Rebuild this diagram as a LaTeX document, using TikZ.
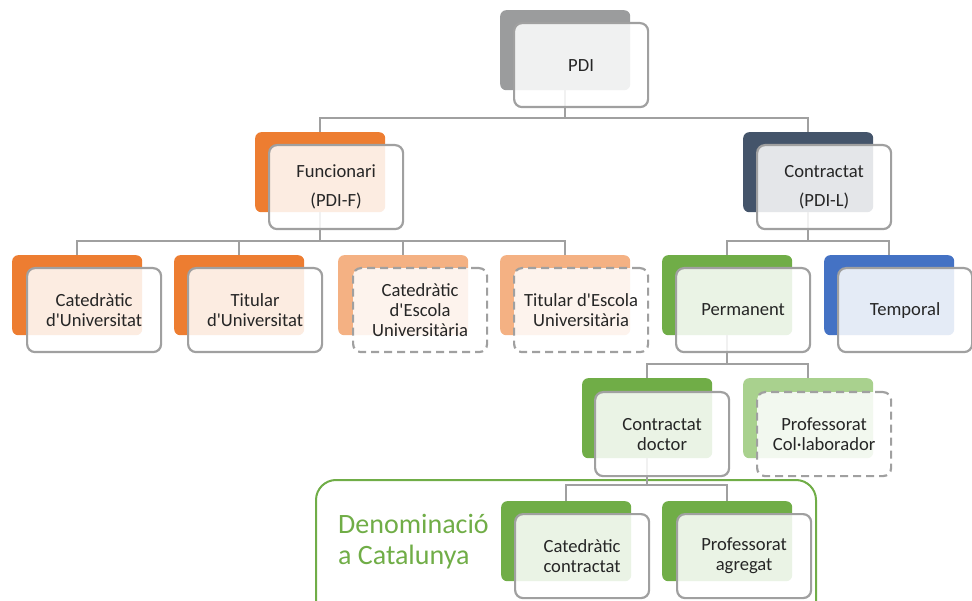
\documentclass[tikz,border=0pt]{standalone}
\usepackage{fontspec}
\setmainfont{Carlito}[Ligatures=TeXOff]
\definecolor{cOrange}{HTML}{ED7D31}
\definecolor{cLightOrange}{HTML}{F4B183}
\definecolor{cNavy}{HTML}{44546A}
\definecolor{cGray}{HTML}{9B9C9D}
\definecolor{cGreen}{HTML}{70AD47}
\definecolor{cLightGreen}{HTML}{A9D18E}
\definecolor{cBlue}{HTML}{4472C4}
\definecolor{edgegray}{HTML}{A0A0A0}
\definecolor{conngray}{HTML}{A0A0A0}
\definecolor{textdark}{HTML}{262626}
\tikzset{
  backbox/.style={rounded corners=6pt, minimum width=130pt, minimum height=80pt,
    anchor=north west, inner sep=0pt, draw=none},
  frontbox/.style={rounded corners=8pt, minimum width=134pt, minimum height=84pt,
    anchor=north west, inner sep=2pt, draw=edgegray, line width=2.2pt, fill=white,
    fill opacity=0.86, text opacity=1, align=center,
    font=\fontsize{18.6}{20}\selectfont, text=textdark},
  dashfront/.style={frontbox, dash pattern=on 8pt off 5pt},
  conn/.style={draw=conngray, line width=2pt},
}
\begin{document}
\begin{tikzpicture}[x=1pt,y=-1pt]
\useasboundingbox (0,0) rectangle (972,601);
\clip (0,0) rectangle (972,601);
% frame
\node[draw=cGreen, line width=2pt, rounded corners=20pt, minimum width=500pt,
  minimum height=160pt, anchor=north west, inner sep=0pt] (frame) at (315,479) {};
\node[anchor=west, text=cGreen, font=\fontsize{28}{31}\selectfont, align=left, inner sep=0pt]
  (denom) at (338,542) {Denominació\\a Catalunya};
% back boxes
\node[backbox, fill=cGray] (pdiB) at (500,10) {};
\node[backbox, fill=cOrange] (funcB) at (255,132) {};
\node[backbox, fill=cNavy] (contB) at (743,132) {};
\node[backbox, fill=cOrange] (catuB) at (12,255) {};
\node[backbox, fill=cOrange] (tituB) at (174,255) {};
\node[backbox, fill=cLightOrange] (cateB) at (338,255) {};
\node[backbox, fill=cLightOrange] (titeB) at (500,255) {};
\node[backbox, fill=cGreen] (permB) at (662,255) {};
\node[backbox, fill=cBlue] (tempB) at (824,255) {};
\node[backbox, fill=cGreen] (cdocB) at (582,378) {};
\node[backbox, fill=cLightGreen] (pcolB) at (743,378) {};
\node[backbox, fill=cGreen] (ccatB) at (501,501) {};
\node[backbox, fill=cGreen] (pagrB) at (662,501) {};
% connectors
\draw[conn] (pdiB.south) -- ++(0,28) -| (funcB.north);
\draw[conn] (pdiB.south) -- ++(0,28) -| (contB.north);
\draw[conn] (funcB.south) -- ++(0,29) -| (catuB.north);
\draw[conn] (funcB.south) -- ++(0,29) -| (tituB.north);
\draw[conn] (funcB.south) -- ++(0,29) -| (cateB.north);
\draw[conn] (funcB.south) -- ++(0,29) -| (titeB.north);
\draw[conn] (contB.south) -- ++(0,29) -| (permB.north);
\draw[conn] (contB.south) -- ++(0,29) -| (tempB.north);
\draw[conn] (permB.south) -- ++(0,29) -| (cdocB.north);
\draw[conn] (permB.south) -- ++(0,29) -| (pcolB.north);
\draw[conn] (cdocB.south) -- ++(0,27) -| (ccatB.north);
\draw[conn] (cdocB.south) -- ++(0,27) -| (pagrB.north);
% front boxes
\node[frontbox] (pdi) at ([shift={(13,12)}]pdiB.north west) {PDI};
\node[frontbox] (func) at ([shift={(13,12)}]funcB.north west) {Funcionari\\[9pt](PDI-F)};
\node[frontbox] (cont) at ([shift={(13,12)}]contB.north west) {Contractat\\[9pt](PDI-L)};
\node[frontbox] (catu) at ([shift={(14,12)}]catuB.north west) {Catedràtic\\d'Universitat};
\node[frontbox] (titu) at ([shift={(13,12)}]tituB.north west) {Titular\\d'Universitat};
\node[dashfront] (cate) at ([shift={(14,12)}]cateB.north west) {Catedràtic\\d'Escola\\Universitària};
\node[dashfront] (tite) at ([shift={(13,12)}]titeB.north west) {Titular d'Escola\\Universitària};
\node[frontbox] (perm) at ([shift={(13,12)}]permB.north west) {Permanent};
\node[frontbox] (temp) at ([shift={(13,12)}]tempB.north west) {Temporal};
\node[frontbox] (cdoc) at ([shift={(12,13)}]cdocB.north west) {Contractat\\doctor};
\node[dashfront] (pcol) at ([shift={(13,13)}]pcolB.north west) {Professorat\\Col·laborador};
\node[frontbox] (ccat) at ([shift={(13,12)}]ccatB.north west) {Catedràtic\\contractat};
\node[frontbox] (pagr) at ([shift={(14,12)}]pagrB.north west) {Professorat\\agregat};
\end{tikzpicture}
\end{document}
